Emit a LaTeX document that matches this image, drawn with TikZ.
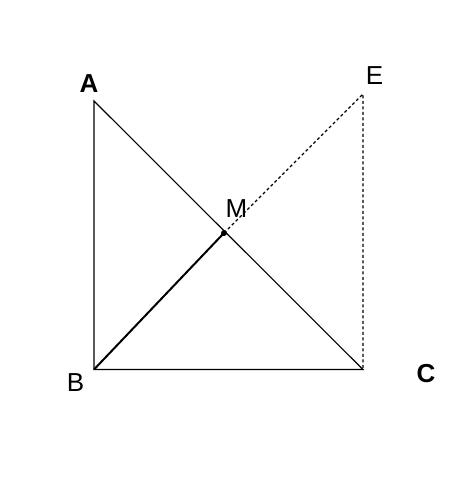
\documentclass[tikz,border=0pt]{standalone}
\usepackage{fontspec}
\setmainfont{Liberation Sans}
\begin{document}
\begin{tikzpicture}[x=1pt,y=-1pt,
  lbl/.style={inner sep=0pt,font=\fontsize{26}{26}\selectfont},
  blbl/.style={inner sep=0pt,font=\fontsize{26}{26}\selectfont\bfseries},
  thinline/.style={line width=1.1pt},
  dashline/.style={line width=1.1pt,dash pattern=on 3pt off 2.5pt}]
\useasboundingbox[fill=white] (0,0) rectangle (474,483);
\coordinate (A) at (94,101);
\coordinate (B) at (94,369.5);
\coordinate (C) at (363,369.5);
\coordinate (E) at (363,94);
\coordinate (M) at (224,233);
\draw[thinline] (A) -- (B) -- (C) -- cycle;
\draw[line width=2pt] (B) -- (M);
\draw[dashline] (M) -- (E) -- (C);
\fill (M) circle (3pt);
\node[blbl] (lA) at (89,84) {A};
\node[lbl] (lE) at (374.5,75.5) {E};
\node[lbl] (lM) at (236.5,208.5) {M};
\node[lbl] (lB) at (75.5,382.5) {B};
\node[blbl] (lC) at (426,374) {C};
\end{tikzpicture}
\end{document}
